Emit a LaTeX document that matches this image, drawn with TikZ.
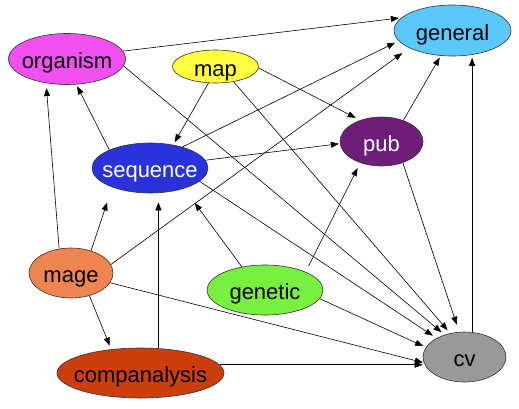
\documentclass[tikz,border=0pt]{standalone}
\usepackage{fontspec}
\setmainfont{Liberation Sans}
\usetikzlibrary{shapes.geometric,arrows.meta,positioning}

\definecolor{cOrganism}{RGB}{240,80,240}
\definecolor{cMap}{RGB}{255,255,64}
\definecolor{cGeneral}{RGB}{90,200,250}
\definecolor{cPub}{RGB}{110,30,120}
\definecolor{cSequence}{RGB}{42,50,220}
\definecolor{cMage}{RGB}{238,133,80}
\definecolor{cGenetic}{RGB}{120,240,64}
\definecolor{cCompanalysis}{RGB}{204,63,12}
\definecolor{cCv}{RGB}{153,153,153}

\begin{document}
\begin{tikzpicture}[x=1pt,y=-1pt,
  ent/.style={ellipse,draw=black!80,line width=0.6pt,inner xsep=-15pt,inner ysep=-5pt,
    text height=22pt,text depth=3pt,font=\fontsize{22}{24}\selectfont},
  dep/.style={-{Triangle[length=8pt,width=6pt]},line width=0.6pt}]
\useasboundingbox (0,0) rectangle (519,408);
% entities
\node[ent,fill=cOrganism,minimum width=117pt,minimum height=51pt] (organism) at (67,59) {organism};
\node[ent,fill=cMap,minimum width=86pt,minimum height=33pt] (map) at (215.5,66.5) {map};
\node[ent,fill=cGeneral,minimum width=117pt,minimum height=51pt] (general) at (452.5,30.5) {general};
\node[ent,fill=cPub,text=white,minimum width=83pt,minimum height=49pt] (pub) at (381.5,141.5) {pub};
\node[ent,fill=cSequence,text=white,minimum width=116pt,minimum height=50pt] (sequence) at (150,168) {sequence};
\node[ent,fill=cMage,minimum width=84pt,minimum height=50pt] (mage) at (71,273) {mage};
\node[ent,fill=cGenetic,minimum width=116pt,minimum height=50pt] (genetic) at (265,290) {genetic};
\node[ent,fill=cCompanalysis,minimum width=167pt,minimum height=50pt] (companalysis) at (140.5,373) {companalysis};
\node[ent,fill=cCv,minimum width=83pt,minimum height=50pt] (cv) at (464.5,357) {cv};
% dependencies
\draw[dep,shorten >=2.5pt] (organism.8) -- (general.166);
\draw[dep,shorten >=4pt] (organism.-7) -- (cv.132);
\draw[dep,shorten >=3pt] (map.-113) -- (sequence.45);
\draw[dep,shorten >=5pt] (map.-2) -- (pub.135);
\draw[dep,shorten >=4pt] (map.-40) -- (cv.121);
\draw[dep,shorten >=2pt] (sequence.156) -- (organism.-70);
\draw[dep,shorten >=4pt] (sequence.33) -- (general.191);
\draw[dep,shorten >=1pt] (sequence.8) -- (pub.183);
\draw[dep,shorten >=4.5pt] (sequence.-15) -- (cv.146);
\draw[dep,shorten >=5pt] (mage.116) -- (organism.229);
\draw[dep,shorten >=16pt] (mage.48) -- (sequence.207);
\draw[dep,shorten >=8.7pt] (mage.12) -- (general.202);
\draw[dep,shorten >=4pt] (mage.-51) -- (companalysis.141);
\draw[dep,shorten >=1pt] (mage.-14) -- (cv.188);
\draw[dep,shorten >=18pt] (genetic.135) -- (sequence.-31);
\draw[dep,shorten <=6.6pt,shorten >=5.8pt] (genetic.24) -- (pub.225.5);
\draw[dep,shorten >=3pt] (genetic.-9) -- (cv.166);
\draw[dep,shorten >=9pt] (companalysis.54) -- (companalysis.54 |- sequence.south);
\draw[dep] (companalysis.6) -- (companalysis.6 -| cv.west);
\draw[dep,shorten >=2pt] (pub.44) -- (general.245);
\draw[dep,shorten >=7.6pt] (pub.-45) -- (cv.102);
\draw[dep,shorten >=1.5pt] (cv.73) -- (cv.73 |- general.south);
\end{tikzpicture}
\end{document}
